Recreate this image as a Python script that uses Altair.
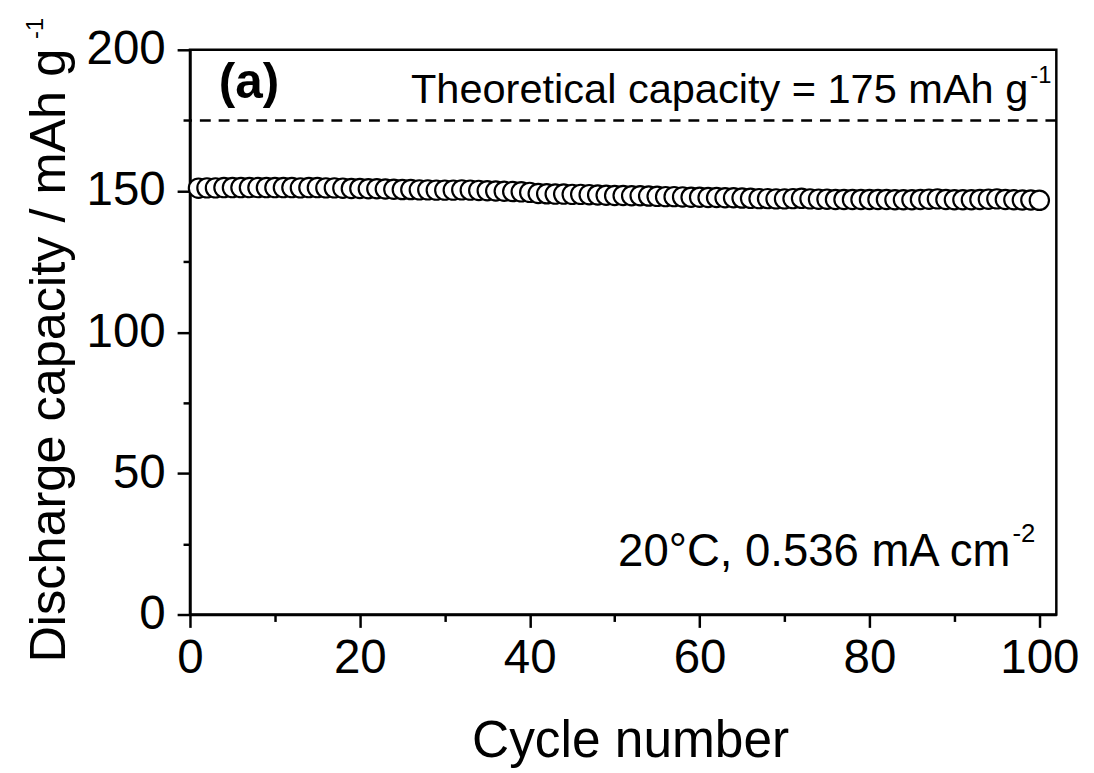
import altair as alt
import pandas as pd

# ---- data ----
cycles = list(range(1, 101))
capacity = [
    151.0, 151.1, 151.1, 151.2, 151.2, 151.2, 151.2, 151.2, 151.2, 151.2,
    151.2, 151.2, 151.1, 151.2, 151.2, 151.1, 151.1, 151.0, 150.9, 150.9,
    150.8, 150.8, 150.7, 150.6, 150.5, 150.5, 150.4, 150.4, 150.3, 150.3,
    150.3, 150.4, 150.3, 150.2, 150.1, 150.0, 149.9, 149.8, 149.7, 149.5,
    149.1, 149.0, 148.9, 148.9, 148.8, 148.8, 148.7, 148.6, 148.5, 148.4,
    148.4, 148.3, 148.3, 148.2, 148.1, 148.0, 148.0, 147.9, 147.8, 147.8,
    147.7, 147.7, 147.6, 147.6, 147.5, 147.4, 147.3, 147.3, 147.2, 147.2,
    147.3, 147.4, 147.2, 147.1, 147.1, 147.0, 147.0, 147.0, 147.0, 147.0,
    147.0, 147.0, 146.9, 146.9, 146.9, 147.0, 147.1, 147.2, 147.0, 146.9,
    146.9, 146.9, 147.0, 147.1, 147.2, 147.0, 146.9, 146.8, 146.8, 146.7,
]
theoretical = [175]

x_domain = [0, 102]
y_domain = [0, 200]
x_major = [0, 20, 40, 60, 80, 100]
x_minor = [10, 30, 50, 70, 90]
y_major = [0, 50, 100, 150, 200]
y_minor = [25, 75, 125, 175]

x_title = "Cycle number"
y_title = ["Discharge capacity / mAh g"]
y_title_sup = ["-1"]

panel_label = ["(a)"]
panel_label_pos = [3.4, 182.8]
theo_text = ["Theoretical capacity = 175 mAh g"]
theo_sup = ["-1"]
theo_pos = [98.7, 181.1]
cond_text = ["20°C, 0.536 mA cm"]
cond_sup = ["-2"]
cond_pos = [96.6, 17.2]

FONT = "Liberation Sans"

df = pd.DataFrame({"cycle": cycles, "cap": capacity})
xs = alt.Scale(domain=x_domain, nice=False, zero=False)
ys = alt.Scale(domain=y_domain, nice=False, zero=False)

major_x = alt.Axis(values=x_major, tickSize=13, labelPadding=8, labelFlush=False,
                   labelOverlap=False, title=x_title, titleX=445, titleY=144,
                   titleAlign="center", titleBaseline="alphabetic",
                   orient="bottom", grid=False, format="d")
major_y = alt.Axis(values=y_major, tickSize=13, labelPadding=12, labelOverlap=False,
                   title=None, orient="left", grid=False, format="d")
minor_x = alt.Axis(values=x_minor, tickSize=7, labels=False, domain=False,
                   title=None, orient="bottom", grid=False)
minor_y = alt.Axis(values=y_minor, tickSize=7, labels=False, domain=False,
                   title=None, orient="left", grid=False)

minor_layer = alt.Chart(df).mark_circle(opacity=0).encode(
    x=alt.X("cycle:Q", scale=xs, axis=minor_x),
    y=alt.Y("cap:Q", scale=ys, axis=minor_y),
)

rule = alt.Chart(pd.DataFrame({"v": theoretical})).mark_rule(
    color="black", strokeWidth=2.5, strokeDash=[11, 8]
).encode(y=alt.Y("v:Q", scale=ys, axis=None))

points = alt.Chart(df).mark_circle(
    size=380, fill="white", stroke="black", strokeWidth=2.2, opacity=1
).encode(
    x=alt.X("cycle:Q", scale=xs, axis=major_x),
    y=alt.Y("cap:Q", scale=ys, axis=major_y),
)


def text_layer(texts, pos, align, size, weight="normal", dx=0, dy=0):
    d = pd.DataFrame({"t": texts, "x": [pos[0]], "y": [pos[1]]})
    return alt.Chart(d).mark_text(
        align=align, baseline="alphabetic", font=FONT, fontSize=size,
        fontWeight=weight, color="black", dx=dx, dy=dy
    ).encode(
        x=alt.X("x:Q", scale=xs, axis=None),
        y=alt.Y("y:Q", scale=ys, axis=None),
        text="t:N",
    )


lab_a = text_layer(panel_label, panel_label_pos, "left", 50, "bold")
theo_main = text_layer(theo_text, theo_pos, "right", 42)
theo_s = text_layer(theo_sup, theo_pos, "left", 24, dx=2, dy=-20)
cond_main = text_layer(cond_text, cond_pos, "right", 46)
cond_s = text_layer(cond_sup, cond_pos, "left", 26, dx=2, dy=-24)

ytitle = alt.Chart(pd.DataFrame({"t": y_title})).mark_text(
    angle=270, align="right", baseline="alphabetic", font=FONT, fontSize=51, color="black"
).encode(x=alt.value(-126), y=alt.value(-1), text="t:N")

ysup = alt.Chart(pd.DataFrame({"t": y_title_sup})).mark_text(
    angle=270, align="left", baseline="alphabetic", font=FONT, fontSize=24, color="black"
).encode(x=alt.value(-149), y=alt.value(-11), text="t:N")

chart = alt.layer(
    minor_layer, rule, points, lab_a, theo_main, theo_s, cond_main, cond_s, ytitle, ysup
).resolve_axis(
    x="independent", y="independent"
).properties(
    width=876, height=571,
    autosize=alt.AutoSizeParams(type="none"),
    padding={"left": 184, "top": 38, "right": 30, "bottom": 158},
    background="white",
).configure_view(
    stroke="black", strokeWidth=2.5
).configure_axis(
    domainColor="black", domainWidth=2.5, tickColor="black", tickWidth=2.5,
    labelFont=FONT, labelFontSize=48, labelColor="black",
    titleFont=FONT, titleFontSize=52, titleFontWeight="normal", titleColor="black",
)

chart.save("out.html", embed_options={"renderer": "svg", "actions": False})
